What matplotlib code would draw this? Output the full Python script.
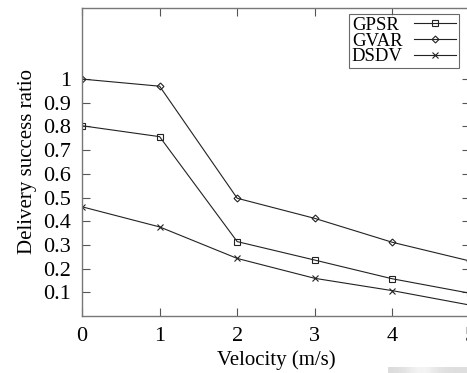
import numpy as np
import matplotlib as mpl
import matplotlib.pyplot as plt

velocity = [0, 1, 2, 3, 4, 5]
gpsr = [0.803, 0.757, 0.314, 0.236, 0.157, 0.096]
gvar = [1.0, 0.970, 0.497, 0.412, 0.311, 0.232]
dsdv = [0.461, 0.376, 0.243, 0.159, 0.107, 0.046]
yticks = [0.1, 0.2, 0.3, 0.4, 0.5, 0.6, 0.7, 0.8, 0.9, 1.0]
yticklabels = ['0.1', '0.2', '0.3', '0.4', '0.5', '0.6', '0.7', '0.8', '0.9', '1']

mpl.rcParams['font.family'] = 'Liberation Serif'
mpl.rcParams['font.size'] = 14

fig = plt.figure(figsize=(4.67, 3.73), dpi=100)
# axes runs a little past the right edge of the canvas
ax = fig.add_axes([82 / 467, 57 / 373, 388 / 467, 308 / 373])

line_kw = dict(color='#222222', lw=0.8, mfc='none', mec='#222222', mew=0.8)
ax.plot(velocity, gpsr, marker='s', ms=5, label='GPSR', **line_kw)
ax.plot(velocity, gvar, marker='D', ms=3.5, label='GVAR', **line_kw)
ax.plot(velocity, dsdv, marker='x', ms=5, label='DSDV', **line_kw)

ax.set_xlim(0, 5)
ax.set_ylim(0, 1.3)
ax.set_xticks(velocity)
ax.set_yticks(yticks)
ax.set_yticklabels(yticklabels)
ax.tick_params(direction='in', length=6, width=0.8, color='#555555',
               top=True, right=True, labelsize=16, pad=8)
for s in ax.spines.values():
    s.set_color('#777777')
    s.set_linewidth(1.0)

ax.set_xlabel('Velocity (m/s)', fontsize=15, labelpad=3)
ax.set_ylabel('Delivery success ratio', fontsize=15, labelpad=4)

leg = ax.legend(loc='upper left', bbox_to_anchor=(267 / 388, 1 - 6 / 308),
                markerfirst=False, frameon=True, fancybox=False,
                fontsize=13.5, labelspacing=-0.08, borderpad=0.15,
                handlelength=2.25, handletextpad=0.6, borderaxespad=0)
leg.get_frame().set_edgecolor('#444444')
leg.get_frame().set_linewidth(0.8)

# left-align the labels while keeping the line samples in one column
fig.canvas.draw()
r = fig.canvas.get_renderer()
widths = [t.get_window_extent(r).width for t in leg.get_texts()]
col = leg._legend_handle_box.get_children()[0]
col.align = 'left'
for box, w in zip(col.get_children(), widths):
    box.sep += (max(widths) - w) * 72 / fig.dpi

# faint grey strip along the bottom right corner
strip = fig.add_axes([388 / 467, 0, 79 / 467, 6 / 373])
shade = np.array([[0.86, 0.88, 0.93, 0.97, 0.92, 0.88, 0.87, 0.87]])
strip.imshow(shade, cmap='gray', vmin=0, vmax=1, aspect='auto',
             interpolation='bicubic')
strip.axis('off')

fig.savefig('out.png', dpi=100)
